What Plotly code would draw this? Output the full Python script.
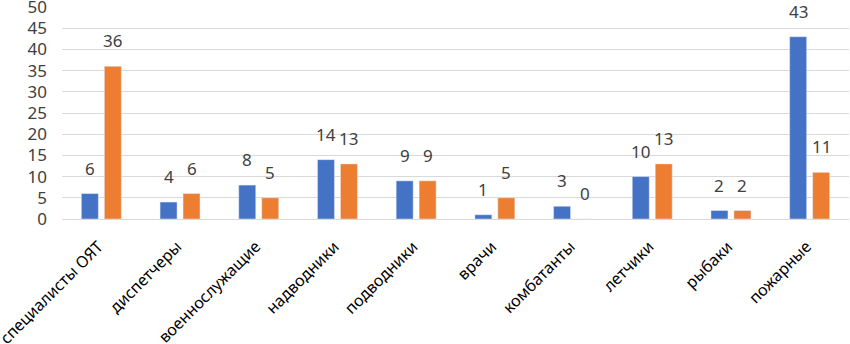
import plotly.graph_objects as go

categories = ["специалисты ОЯТ", "диспетчеры", "военнослужащие", "надводники",
              "подводники", "врачи", "комбатанты", "летчики", "рыбаки", "пожарные"]
series1 = [6, 4, 8, 14, 9, 1, 3, 10, 2, 43]
series2 = [36, 6, 5, 13, 9, 5, 0, 13, 2, 11]
y_ticks = [0, 5, 10, 15, 20, 25, 30, 35, 40, 45, 50]

BLUE = "#4472C4"
ORANGE = "#ED7D31"
TXT = "#404040"
FONT = "Noto Sans"

fig = go.Figure()
fig.add_trace(go.Bar(x=categories, y=series1, marker_color=BLUE, name="1"))
fig.add_trace(go.Bar(x=categories, y=series2, marker_color=ORANGE, name="2"))

for c, v in zip(categories, series1):
    fig.add_annotation(x=c, y=v, text=str(v), showarrow=False, xshift=-11.5,
                       yshift=12, yanchor="bottom", font=dict(size=17, color=TXT, family=FONT))
for c, v in zip(categories, series2):
    fig.add_annotation(x=c, y=v, text=str(v), showarrow=False, xshift=11.5,
                       yshift=12, yanchor="bottom", font=dict(size=17, color=TXT, family=FONT))

fig.update_layout(
    width=850, height=344,
    margin=dict(l=62, r=1, t=7, b=125, autoexpand=False),
    plot_bgcolor="white", paper_bgcolor="white",
    barmode="group", bargap=0.416, bargroupgap=0.26,
    showlegend=False,
    font=dict(family=FONT, color=TXT),
)
fig.update_yaxes(range=[0, 50], tickvals=y_ticks, showgrid=True, gridcolor="#D9D9D9",
                 gridwidth=1, zeroline=False, showline=False, ticks="", automargin=False,
                 ticklabeloverflow="allow",
                 tickfont=dict(size=17, color=TXT, family=FONT), ticklabelstandoff=14)
fig.update_xaxes(tickangle=-45, showline=True, linecolor="#D9D9D9", linewidth=1,
                 ticks="outside", ticklen=11, tickcolor="rgba(0,0,0,0)",
                 automargin=False, ticklabeloverflow="allow", ticklabelshift=-3,
                 tickfont=dict(size=16, color="#000000", family=FONT))

fig.write_html("out.html", config={"displayModeBar": False},
               post_script="document.body.style.margin='0';document.body.style.overflow='hidden';")
